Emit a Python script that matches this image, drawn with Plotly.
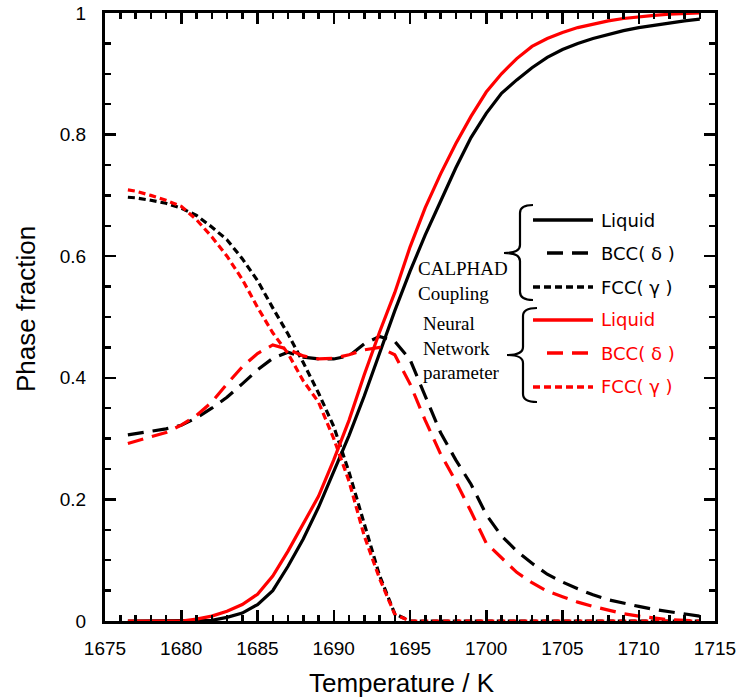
import plotly.graph_objects as go

# ---------------- data ----------------
temperature = [1676.5, 1677, 1678, 1679, 1680, 1681, 1682, 1683, 1684, 1685,
               1686, 1687, 1688, 1689, 1690, 1691, 1692, 1693, 1694, 1695,
               1696, 1697, 1698, 1699, 1700, 1701, 1702, 1703, 1704, 1705,
               1706, 1707, 1708, 1709, 1710, 1711, 1712, 1713, 1714]

calphad_liquid = [0, 0, 0, 0, 0, 0, 0.001, 0.006, 0.013, 0.027,
                  0.05, 0.09, 0.135, 0.187, 0.245, 0.305, 0.37, 0.44, 0.51, 0.575,
                  0.635, 0.69, 0.745, 0.795, 0.835, 0.868, 0.89, 0.91, 0.927, 0.94,
                  0.95, 0.958, 0.965, 0.971, 0.976, 0.98, 0.984, 0.987, 0.99]
calphad_bcc = [0.306, 0.308, 0.311, 0.316, 0.322, 0.334, 0.35, 0.368, 0.39, 0.413,
               0.432, 0.442, 0.434, 0.431, 0.431, 0.436, 0.456, 0.468, 0.46, 0.43,
               0.37, 0.31, 0.265, 0.225, 0.175, 0.14, 0.115, 0.095, 0.077, 0.064,
               0.053, 0.043, 0.035, 0.029, 0.024, 0.019, 0.015, 0.011, 0.008]
calphad_fcc = [0.697, 0.696, 0.692, 0.687, 0.679, 0.667, 0.648, 0.627, 0.596, 0.56,
               0.515, 0.472, 0.425, 0.375, 0.32, 0.245, 0.16, 0.075, 0.012, 0,
               0, 0, 0, 0, 0, 0, 0, 0, 0, 0,
               0, 0, 0, 0, 0, 0, 0, 0, 0]

nn_liquid = [0, 0, 0, 0, 0, 0.003, 0.008, 0.016, 0.027, 0.044,
             0.074, 0.115, 0.16, 0.205, 0.265, 0.33, 0.405, 0.475, 0.54, 0.615,
             0.68, 0.735, 0.785, 0.83, 0.87, 0.9, 0.925, 0.945, 0.958, 0.968,
             0.976, 0.982, 0.987, 0.991, 0.994, 0.996, 0.998, 0.999, 1.0]
nn_bcc = [0.292, 0.296, 0.303, 0.31, 0.322, 0.338, 0.36, 0.39, 0.418, 0.44,
          0.454, 0.447, 0.436, 0.431, 0.432, 0.438, 0.446, 0.45, 0.438, 0.39,
          0.33, 0.275, 0.23, 0.18, 0.128, 0.104, 0.08, 0.063, 0.049, 0.04,
          0.031, 0.024, 0.018, 0.012, 0.008, 0.005, 0.002, 0.001, 0]
nn_fcc = [0.709, 0.707, 0.70, 0.692, 0.682, 0.66, 0.632, 0.60, 0.562, 0.516,
          0.474, 0.44, 0.395, 0.36, 0.30, 0.23, 0.14, 0.07, 0.011, 0,
          0, 0, 0, 0, 0, 0, 0, 0, 0, 0,
          0, 0, 0, 0, 0, 0, 0, 0, 0]

phase_names = ["Liquid", "BCC( δ )", "FCC( γ )"]
x_tick_values = [1675, 1680, 1685, 1690, 1695, 1700, 1705, 1710, 1715]
y_tick_values = [0, 0.2, 0.4, 0.6, 0.8, 1]
y_tick_text = ["0", "0.2", "0.4", "0.6", "0.8", "1"]
x_title = "Temperature / K"
y_title = "Phase fraction"

# ---------------- styles ----------------
BLACK = "#000000"
RED = "#ff0000"
DASH_BCC = "16px,9px"
DASH_FCC = "7px,4px"
LW = 3.2
SANS = "DejaVu Sans, Liberation Sans, sans-serif"
ARIAL = "Liberation Sans, Arial, sans-serif"
SERIF = "Liberation Serif, DejaVu Serif, serif"

W, H = 739, 700
L, R, T, B = 105, 715, 13, 621


def px(x, y):
    """page pixel -> paper fraction"""
    return (x - L) / (R - L), (B - y) / (B - T)


fig = go.Figure()
series = [
    (calphad_liquid, BLACK, "solid"), (calphad_bcc, BLACK, DASH_BCC), (calphad_fcc, BLACK, DASH_FCC),
    (nn_liquid, RED, "solid"), (nn_bcc, RED, DASH_BCC), (nn_fcc, RED, DASH_FCC),
]
for vals, col, dash in series:
    fig.add_trace(go.Scatter(x=temperature, y=vals, mode="lines",
                             line=dict(color=col, width=LW, dash=dash),
                             showlegend=False, hoverinfo="skip"))

shapes = []
annotations = []

# legend samples
legend_rows = [(220, BLACK, "solid", 533), (253, BLACK, DASH_BCC, 547), (287, BLACK, DASH_FCC, 533),
               (320, RED, "solid", 533), (353, RED, DASH_BCC, 547), (387, RED, DASH_FCC, 533)]
for i, (yy, col, dash, x0) in enumerate(legend_rows):
    a = px(x0, yy)
    b = px(593, yy)
    shapes.append(dict(type="line", xref="paper", yref="paper", x0=a[0], y0=a[1], x1=b[0], y1=b[1],
                       line=dict(color=col, width=3.5, dash=dash)))
    t = px(599, yy)
    annotations.append(dict(xref="paper", yref="paper", x=t[0], y=t[1], xanchor="left", yanchor="middle",
                            text=phase_names[i % 3], showarrow=False,
                            font=dict(family=SANS, size=18, color=col)))


def brace(xe, xv, xt, y0, ym, y1):
    pts = [("M", [(xe, y0)]), ("Q", [(xv, y0), (xv, y0 + 8)]), ("L", [(xv, ym - 8)]),
           ("Q", [(xv, ym), (xt, ym)]), ("Q", [(xv, ym), (xv, ym + 8)]), ("L", [(xv, y1 - 8)]),
           ("Q", [(xv, y1), (xe, y1)])]
    s = ""
    for cmd, pl in pts:
        s += cmd + " " + " ".join("%.5f,%.5f" % px(*p) for p in pl) + " "
    return s.strip()


shapes.append(dict(type="path", xref="paper", yref="paper", path=brace(533, 520, 504, 205, 253, 300),
                   line=dict(color=BLACK, width=2.2)))
shapes.append(dict(type="path", xref="paper", yref="paper", path=brace(537, 523, 507, 308, 355, 402),
                   line=dict(color=BLACK, width=2.2)))

p = px(416, 281)
annotations.append(dict(xref="paper", yref="paper", x=p[0], y=p[1], xanchor="left", yanchor="middle",
                        text="CALPHAD<br>Coupling", align="left", showarrow=False,
                        font=dict(family=SERIF, size=19, color=BLACK)))
p = px(421, 348)
annotations.append(dict(xref="paper", yref="paper", x=p[0], y=p[1], xanchor="left", yanchor="middle",
                        text="Neural<br>Network<br>parameter", align="left", showarrow=False,
                        font=dict(family=SERIF, size=19, color=BLACK)))

# axis titles
p = px(402, 683)
annotations.append(dict(xref="paper", yref="paper", x=p[0], y=p[1], xanchor="center", yanchor="middle",
                        text=x_title, showarrow=False, font=dict(family=ARIAL, size=26, color=BLACK)))
p = px(26, 309)
annotations.append(dict(xref="paper", yref="paper", x=p[0], y=p[1], xanchor="center", yanchor="middle",
                        text=y_title, textangle=-90, showarrow=False,
                        font=dict(family=ARIAL, size=26, color=BLACK)))

axis_common = dict(showline=True, linecolor=BLACK, linewidth=3, mirror="allticks",
                   ticks="inside", tickcolor=BLACK, tickwidth=2.5, showgrid=False, zeroline=False,
                   automargin=False,
                   tickfont=dict(family=ARIAL, size=19, color=BLACK))

fig.update_layout(
    width=W, height=H, autosize=False,
    margin=dict(l=L, r=W - R, t=T, b=H - B, autoexpand=False),
    paper_bgcolor="white", plot_bgcolor="white",
    shapes=shapes, annotations=annotations,
    xaxis=dict(range=[1675, 1715], tickvals=x_tick_values, ticklen=11,
               minor=dict(dtick=1, ticks="inside", ticklen=6, tickcolor=BLACK, tickwidth=2.5),
               ticklabelstandoff=8,
               **axis_common),
    yaxis=dict(range=[0, 1], tickvals=y_tick_values, ticktext=y_tick_text, ticklen=11,
               minor=dict(dtick=0.05, ticks="inside", ticklen=6, tickcolor=BLACK, tickwidth=2.5),
               ticklabelstandoff=12,
               **axis_common),
)

fig.write_html("out.html", config={"displayModeBar": False, "staticPlot": True},
               post_script="document.body.style.margin='0';document.body.style.overflow='hidden';")
